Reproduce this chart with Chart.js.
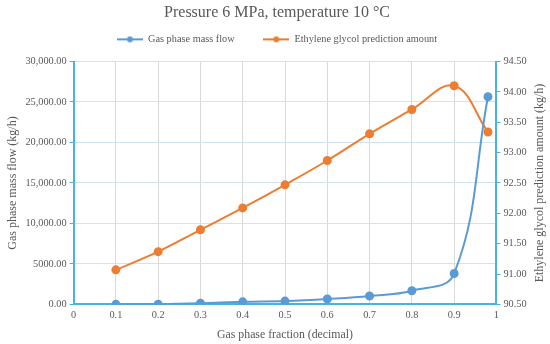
<!DOCTYPE html>
<html><head><meta charset="utf-8">
<script src="https://cdn.jsdelivr.net/npm/chart.js@4/dist/chart.umd.min.js"></script>
<style>html,body{margin:0;padding:0;background:#fff}#wrap{width:550px;height:344px}</style>
</head><body><div id="wrap"><canvas id="c" width="550" height="344"></canvas></div>
<script>
const xValues = [0.1,0.2,0.3,0.4,0.5,0.6,0.7,0.8,0.9,0.98];
const gasFlow = [20,40,150,330,420,670,1040,1700,3820,25650];
const glycol = [91.07,91.37,91.73,92.09,92.47,92.87,93.31,93.71,94.10,93.34];
const leftTickLabels = {30000:'30,000.00',25000:'25,000.00',20000:'20,000.00',15000:'15,000.00',10000:'10,000.00',5000:'5000.00',0:'0.00'};
const seriesNames = ['Gas phase mass flow','Ethylene glycol prediction amount'];
const titleText = 'Pressure 6 MPa, temperature 10 \u00B0C';
const xTitle = 'Gas phase fraction (decimal)';
const yTitle = 'Gas phase mass flow (kg/h)';
const y2Title = 'Ethylene glycol prediction amount (kg/h)';

const BLUE='#5B9BD5', ORANGE='#ED7D31', AXIS='#45B5E0', TXT='#595959';
function legendIcon(color){
  const cv=document.createElement('canvas');cv.width=26;cv.height=8;
  const g=cv.getContext('2d');g.strokeStyle=color;g.lineWidth=2;
  g.beginPath();g.moveTo(0,4);g.lineTo(26,4);g.stroke();
  g.fillStyle=color;g.beginPath();g.arc(13,4,3,0,Math.PI*2);g.fill();
  return cv;
}
const font='"Liberation Serif", "Times New Roman", serif';
const rightTitlePlugin={id:'rightTitle',afterDraw(chart){
  const s=chart.scales.y2,ctx=chart.ctx;
  ctx.save();ctx.fillStyle=TXT;ctx.font='12px '+font;ctx.textAlign='center';ctx.textBaseline='middle';
  ctx.translate(s.right-8,(s.top+s.bottom)/2);ctx.rotate(-Math.PI/2);ctx.fillText(y2Title,0,0);ctx.restore();
}};
const legendGapPlugin={id:'legendGap',beforeInit(chart){
  const lg=chart.legend; if(!lg) return;
  const fit=lg.fit; lg.fit=function(){fit.call(this); this.height+=7;};
}};
new Chart(document.getElementById('c'),{
  type:'line',
  data:{datasets:[
    {label:seriesNames[0],data:xValues.map((x,i)=>({x,y:gasFlow[i]})),borderColor:BLUE,backgroundColor:BLUE,yAxisID:'y',borderWidth:2,pointRadius:3.5,pointHoverRadius:3.5,tension:0.4},
    {label:seriesNames[1],data:xValues.map((x,i)=>({x,y:glycol[i]})),borderColor:ORANGE,backgroundColor:ORANGE,yAxisID:'y2',borderWidth:2,pointRadius:3.5,pointHoverRadius:3.5,tension:0.4}
  ]},
  plugins:[rightTitlePlugin,legendGapPlugin],
  options:{
    responsive:false,animation:false,
    layout:{padding:{left:6,right:2,top:3,bottom:2}},
    plugins:{
      title:{display:true,text:titleText,color:TXT,font:{family:font,size:16,weight:'normal'},padding:{top:0,bottom:4}},
      legend:{labels:{usePointStyle:true,pointStyleWidth:26,boxHeight:8,color:TXT,font:{family:font,size:10.3},padding:8,
        generateLabels:(chart)=>chart.data.datasets.map((d,i)=>({text:d.label+(i===0?'        ':''),fillStyle:d.borderColor,strokeStyle:d.borderColor,fontColor:TXT,pointStyle:legendIcon(d.borderColor),datasetIndex:i,hidden:false,lineWidth:0}))}},
      tooltip:{enabled:false}
    },
    scales:{
      x:{type:'linear',min:0,max:1,
        ticks:{stepSize:0.1,color:TXT,font:{family:font,size:10.3},padding:5,callback:v=>String(Math.round(v*10)/10)},
        grid:{color:'#D9D9D9',drawTicks:false},
        border:{color:AXIS,width:2},
        title:{display:true,text:xTitle,color:TXT,font:{family:font,size:11.8},padding:{top:1,bottom:0}}},
      y:{position:'left',min:0,max:30000,
        ticks:{stepSize:5000,color:TXT,font:{family:font,size:10.3},padding:3,callback:v=>leftTickLabels[v]},
        grid:{color:'#CFE3F2',tickColor:AXIS,tickLength:4},
        border:{color:AXIS,width:2},
        title:{display:true,text:yTitle,color:TXT,font:{family:font,size:12},padding:{top:0,bottom:2}}},
      y2:{position:'right',min:90.5,max:94.5,
        ticks:{stepSize:0.5,color:TXT,font:{family:font,size:10.3},padding:3,callback:v=>v.toFixed(2)},
        grid:{drawOnChartArea:false,tickColor:AXIS,tickLength:4},
        border:{color:AXIS,width:2},
        title:{display:true,text:y2Title,color:'rgba(0,0,0,0)',font:{family:font,size:12},padding:{top:4,bottom:0}}}
    }
  }
});
</script></body></html>
